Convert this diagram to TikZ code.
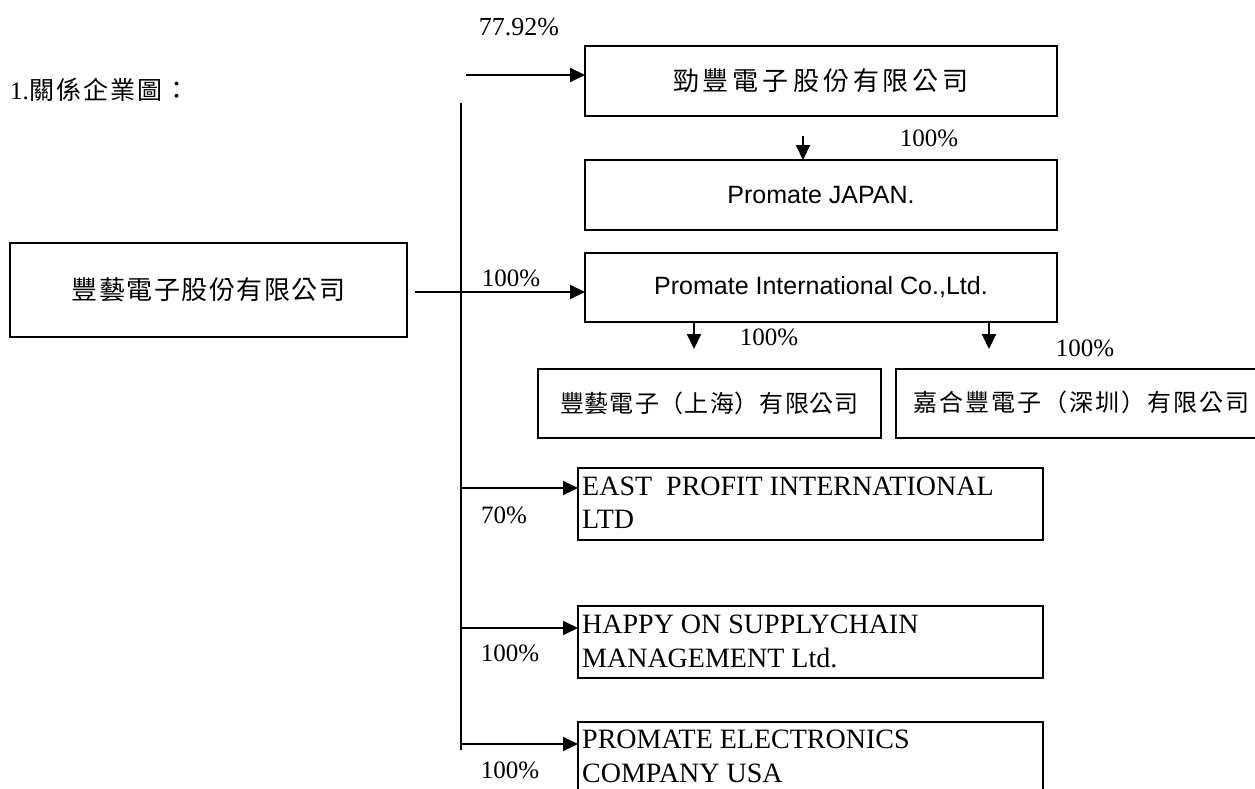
\documentclass[tikz,border=0pt]{standalone}
\usepackage{fontspec}
\setmainfont{Liberation Serif}
\newfontfamily\arialf{Liberation Sans}
\newfontfamily\cjk{Noto Sans CJK TC}
\usetikzlibrary{arrows.meta}
\makeatletter
\newcommand\pitched[2]{\@tfor\pch:=#2\do{\makebox[#1][c]{\pch}}}
\makeatother
\begin{document}
\begin{tikzpicture}[x=1pt,y=-1pt,
  box/.style={draw, line width=1.8pt, inner sep=0pt, outer sep=0pt, anchor=center},
  arr/.style={line width=2pt, -{Triangle[length=15pt,width=14pt]}},
  trunk/.style={line width=1.6pt},
  pct/.style={font=\fontsize{25}{30}\selectfont, inner sep=0pt},
  cjkA/.style={font=\cjk\fontsize{26}{30}\selectfont},
  cjkD/.style={font=\cjk\fontsize{24}{28}\selectfont},
  latin/.style={font=\arialf\fontsize{25}{30}\selectfont},
  serif/.style={font=\fontsize{28}{33}\selectfont, inner sep=0pt, anchor=base west}]
\useasboundingbox (0,0) rectangle (1255,789);

% title
\node[anchor=west, inner sep=0pt, font=\fontsize{25}{28}\selectfont] (title) at (10,90) {1.\cjk\fontsize{25}{28}\selectfont\pitched{27pt}{關係企業圖：}};

% boxes
\node[box, cjkA, minimum width=472pt, minimum height=70pt] (A) at (821,81) {\pitched{30pt}{勁豐電子股份有限公司}};
\node[box, latin, minimum width=472pt, minimum height=70pt] (B) at (821,195) {Promate JAPAN.};
\node[box, latin, minimum width=472pt, minimum height=69pt] (C) at (821,287.5) {Promate International Co.,Ltd.};
\node[box, cjkA, minimum width=397pt, minimum height=94pt] (M) at (208.5,290) {\pitched{27.5pt}{豐藝電子股份有限公司}};
\node[box, cjkD, minimum width=343pt, minimum height=69pt] (D) at (709.5,403.5) {\pitched{25pt}{豐藝電子（上海）有限公司}};
\node[box, minimum width=370pt, minimum height=69pt] (E) at (1081,403.5) {};
\node[cjkD, inner sep=0pt, anchor=west] (Et) at (912,402) {\pitched{26pt}{嘉合豐電子（深圳）有限公司}};
\node[box, minimum width=465pt, minimum height=72pt] (F) at (810.5,504) {};
\node[box, minimum width=465pt, minimum height=72pt] (G) at (810.5,642) {};
\node[box, minimum width=465pt, minimum height=80pt] (H) at (810.5,762) {};

\node[serif] (F1) at (582,495) {EAST\ \ PROFIT INTERNATIONAL};
\node[serif] (F2) at (582,528) {LTD};
\node[serif] (G1) at (582,633) {HAPPY ON SUPPLYCHAIN};
\node[serif] (G2) at (582,667) {MANAGEMENT Ltd.};
\node[serif] (H1) at (582,748) {PROMATE ELECTRONICS};
\node[serif] (H2) at (582,782) {COMPANY USA};

% percentages
\node[pct, font=\fontsize{26}{30}\selectfont] (p1) at (519,27) {77.92\%};
\node[pct] (p2) at (929,138) {100\%};
\node[pct] (p3) at (511,278) {100\%};
\node[pct] (p4) at (769,337) {100\%};
\node[pct] (p5) at (1085,348) {100\%};
\node[pct] (p6) at (504,515) {70\%};
\node[pct] (p7) at (510,653) {100\%};
\node[pct] (p8) at (510,770) {100\%};

% trunk and connectors
\coordinate (v0) at (461,103);
\coordinate (v1) at (461,750);
\draw[trunk] (v0) -- (v1);

\coordinate (t0) at (466,75);
\draw[arr] (t0) -- (t0 -| A.west);

\coordinate (m0) at (415,292);
\draw[arr] (m0) -- (m0 -| C.west);

\coordinate (ab) at (803,136);
\draw[arr] (ab) -- (ab |- B.north);

\coordinate (cd) at (694,349);
\draw[arr] (cd |- C.south) -- (cd);
\coordinate (ce) at (989,349);
\draw[arr] (ce |- C.south) -- (ce);

\coordinate (f0) at (461,488);
\draw[arr] (f0) -- (f0 -| F.west);
\coordinate (g0) at (461,628);
\draw[arr] (g0) -- (g0 -| G.west);
\coordinate (h0) at (461,744);
\draw[arr] (h0) -- (h0 -| H.west);
\end{tikzpicture}
\end{document}
